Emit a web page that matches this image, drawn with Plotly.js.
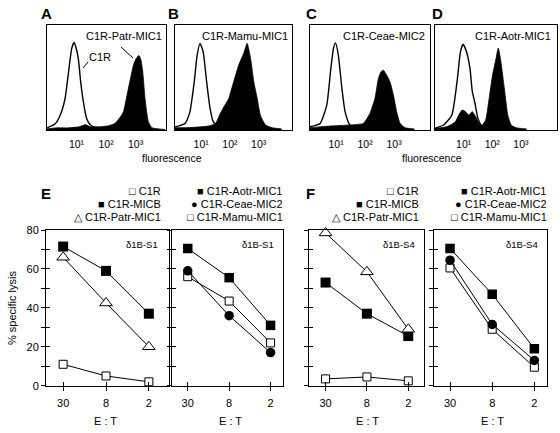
<!DOCTYPE html>
<html>
<head>
<meta charset="utf-8">
<script src="https://cdn.plot.ly/plotly-3.0.1.min.js"></script>
<style>html,body{margin:0;padding:0;background:#fff;}#chart{width:560px;height:433px;}</style>
</head>
<body>
<div id="chart"></div>
<script>
// ---------- DATA ----------
// Flow cytometry histograms (fluorescence channel value, relative cell count)
const histA_C1R_x = [1, 1.9, 2.8, 4.1, 5.2, 6.9, 8.3, 9.5, 11.5, 13.8, 17, 22, 29, 43, 100, 250];
const histA_C1R_y = [0.02, 0.06, 0.14, 0.30, 0.52, 0.78, 0.835, 0.79, 0.68, 0.46, 0.27, 0.11, 0.05, 0.025, 0.02, 0.015];
const histA_Patr_x = [1, 2, 5, 12, 20, 30, 60, 120, 200, 230, 316, 389, 479, 575, 708, 851, 1047, 1288, 1514, 1738, 2089, 2692, 3548, 6310, 10000];
const histA_Patr_y = [0.01, 0.02, 0.02, 0.03, 0.05, 0.03, 0.03, 0.04, 0.063, 0.08, 0.13, 0.175, 0.29, 0.40, 0.52, 0.62, 0.68, 0.71, 0.67, 0.56, 0.30, 0.08, 0.022, 0.01, 0.005];

const histB_C1R_x = [1.23, 2.75, 4.07, 5.75, 7.24, 9.12, 11.7, 15.5, 20.4, 26.3, 39.8, 100];
const histB_C1R_y = [0.03, 0.063, 0.175, 0.46, 0.71, 0.825, 0.746, 0.46, 0.206, 0.079, 0.032, 0.022];
const histB_Mamu_x = [1.23, 3.16, 10, 20, 31.6, 46.8, 61.7, 91.2, 135, 204, 302, 398, 525, 676, 891, 1148, 1738, 2951, 6310];
const histB_Mamu_y = [0.022, 0.022, 0.03, 0.04, 0.063, 0.16, 0.22, 0.30, 0.46, 0.62, 0.73, 0.825, 0.68, 0.46, 0.30, 0.14, 0.048, 0.022, 0.01];

const histC_C1R_x = [1.26, 2.82, 4.79, 6.61, 8.13, 9.55, 12.0, 15.8, 20.4, 30.2, 63];
const histC_C1R_y = [0.032, 0.063, 0.24, 0.59, 0.78, 0.83, 0.71, 0.40, 0.175, 0.048, 0.022];
const histC_Ceae_x = [1.26, 3.16, 10, 31.6, 87, 148, 219, 288, 355, 427, 562, 724, 955, 1230, 1622, 2399, 5012];
const histC_Ceae_y = [0.022, 0.032, 0.041, 0.048, 0.063, 0.16, 0.30, 0.49, 0.555, 0.57, 0.52, 0.46, 0.33, 0.175, 0.063, 0.022, 0.01];

const histD_C1R_x = [1, 2, 3.89, 5.89, 7.76, 9.55, 12.6, 16.6, 20, 25.1, 31.6, 44.7, 100];
const histD_C1R_y = [0.016, 0.048, 0.143, 0.46, 0.746, 0.816, 0.746, 0.59, 0.37, 0.25, 0.11, 0.032, 0.02];
const histD_Aotr_x = [1, 2.63, 5.13, 6.76, 8.91, 11.7, 15.1, 20, 26.3, 34.7, 44.7, 58.9, 77.6, 102, 135, 162, 200, 263, 347, 457, 676, 1585];
const histD_Aotr_y = [0.016, 0.032, 0.079, 0.143, 0.19, 0.175, 0.143, 0.175, 0.127, 0.063, 0.048, 0.095, 0.30, 0.52, 0.68, 0.78, 0.65, 0.40, 0.143, 0.048, 0.022, 0.01];

const histTickVals = [10, 100, 1000];
const histTickText = ['10¹', '10²', '10³'];

// Cytotoxicity (% specific lysis) at E:T ratios
const etLabels = ['30', '8', '2'];
const E1_C1R  = [11, 5, 2];
const E1_MICB = [71.5, 59, 37];
const E1_Patr = [66, 42.5, 20];
const E2_Aotr = [70.5, 55.5, 31];
const E2_Ceae = [59, 36, 17];
const E2_Mamu = [56, 43.5, 22];
const F1_C1R  = [3.5, 4.5, 2.5];
const F1_MICB = [53, 37, 25.5];
const F1_Patr = [78.5, 58.5, 29];
const F2_Aotr = [70.5, 47, 19];
const F2_Ceae = [64.5, 31.5, 13];
const F2_Mamu = [60.5, 29, 9.5];
const yLabelVals = [0, 20, 40, 60, 80];
const yTickVals = [0, 10, 20, 30, 40, 50, 60, 70, 80];

const names = {C1R: 'C1R', MICB: 'C1R-MICB', Patr: 'C1R-Patr-MIC1', Aotr: 'C1R-Aotr-MIC1', Ceae: 'C1R-Ceae-MIC2', Mamu: 'C1R-Mamu-MIC1'};
const glyph = {C1R: '□', MICB: '■', Patr: '△', Aotr: '■', Ceae: '●', Mamu: '□'};

// ---------- STYLE / LAYOUT ----------
const W = 560, H = 433;
const FONT = 'Liberation Sans, Arial, Helvetica, sans-serif';
const dx = (a, b) => [a / W, b / W];
const dy = (top, bottom) => [1 - bottom / H, 1 - top / H];

const markerStyle = {
  C1R:  {symbol: 'square', size: 8, color: '#fff', line: {color: '#000', width: 1}},
  MICB: {symbol: 'square', size: 10, color: '#000', line: {color: '#000', width: 0}},
  Patr: {symbol: 'triangle-up', size: 11, color: '#fff', line: {color: '#000', width: 1}},
  Aotr: {symbol: 'square', size: 9.5, color: '#000', line: {color: '#000', width: 0}},
  Ceae: {symbol: 'circle', size: 9.5, color: '#000', line: {color: '#000', width: 0}},
  Mamu: {symbol: 'square', size: 8, color: '#fff', line: {color: '#000', width: 1}}
};

const traces = [];
function hist(xs, ys, ax, filled) {
  traces.push({
    x: xs, y: ys, xaxis: 'x' + ax, yaxis: 'y' + ax, mode: 'lines', type: 'scatter',
    line: {color: '#000', width: filled ? 0.8 : 1.4, shape: 'spline', smoothing: 0.5},
    fill: filled ? 'tozeroy' : 'none', fillcolor: '#000', showlegend: false, hoverinfo: 'skip'
  });
}
hist(histA_Patr_x, histA_Patr_y, 1, true);
hist(histA_C1R_x, histA_C1R_y, 1, false);
hist(histB_Mamu_x, histB_Mamu_y, 2, true);
hist(histB_C1R_x, histB_C1R_y, 2, false);
hist(histC_Ceae_x, histC_Ceae_y, 3, true);
hist(histC_C1R_x, histC_C1R_y, 3, false);
hist(histD_Aotr_x, histD_Aotr_y, 4, true);
hist(histD_C1R_x, histD_C1R_y, 4, false);

function lysis(vals, key, ax) {
  traces.push({
    x: etLabels, y: vals, xaxis: 'x' + ax, yaxis: 'y' + ax, type: 'scatter', mode: 'lines+markers',
    name: names[key], line: {color: '#000', width: 1}, marker: markerStyle[key],
    showlegend: false, cliponaxis: false
  });
}
lysis(E1_C1R, 'C1R', 5); lysis(E1_Patr, 'Patr', 5); lysis(E1_MICB, 'MICB', 5);
lysis(E2_Mamu, 'Mamu', 6); lysis(E2_Ceae, 'Ceae', 6); lysis(E2_Aotr, 'Aotr', 6);
lysis(F1_C1R, 'C1R', 7); lysis(F1_MICB, 'MICB', 7); lysis(F1_Patr, 'Patr', 7);
lysis(F2_Mamu, 'Mamu', 8); lysis(F2_Ceae, 'Ceae', 8); lysis(F2_Aotr, 'Aotr', 8);
// empty traces registering the overlay (inside) tick axes
for (let i = 9; i <= 12; i++) traces.push({x: [], y: [], xaxis: 'x' + i, yaxis: 'y' + i, type: 'scatter', showlegend: false, hoverinfo: 'skip'});

const layout = {
  width: W, height: H, margin: {l: 0, r: 0, t: 0, b: 0},
  paper_bgcolor: '#fff', plot_bgcolor: 'rgba(0,0,0,0)', showlegend: false,
  font: {family: FONT, color: '#000', size: 11},
  annotations: [], shapes: []
};

const histPanels = [
  {ax: 1, x: [47, 166], range: [0, 4.03]},
  {ax: 2, x: [175, 292], range: [0.09, 4.16]},
  {ax: 3, x: [310, 430], range: [0.1, 4.24]},
  {ax: 4, x: [435, 557], range: [0, 4.26]}
];
histPanels.forEach(p => {
  layout['xaxis' + p.ax] = {
    type: 'log', domain: dx(p.x[0], p.x[1]), range: p.range, anchor: 'y' + p.ax,
    showline: true, mirror: true, linecolor: '#000', linewidth: 1, ticks: '',
    tickmode: 'array', tickvals: histTickVals, ticktext: histTickText, tickfont: {size: 10.5, family: FONT},
    ticklabelstandoff: 4, showgrid: false, zeroline: false, fixedrange: true
  };
  layout['yaxis' + p.ax] = {
    domain: dy(25, 130), range: [0, 1], anchor: 'x' + p.ax,
    showline: true, mirror: true, linecolor: '#000', linewidth: 1, ticks: '',
    tickmode: 'array', tickvals: [], showticklabels: false,
    showgrid: false, zeroline: false, fixedrange: true
  };
});

const lysisPanels = [
  {ax: 5, ov: 9,  x: [46, 169],  range: [-0.4, 2.47]},
  {ax: 6, ov: 10, x: [172, 283], range: [-0.38, 2.3]},
  {ax: 7, ov: 11, x: [309, 424], range: [-0.4, 2.38]},
  {ax: 8, ov: 12, x: [434, 547], range: [-0.38, 2.3]}
];
lysisPanels.forEach(p => {
  const common = {showgrid: false, zeroline: false, fixedrange: true, tickcolor: '#000', tickwidth: 1, ticklen: 4};
  layout['xaxis' + p.ax] = Object.assign({
    type: 'category', domain: dx(p.x[0], p.x[1]), range: p.range, anchor: 'y' + p.ax,
    showline: true, mirror: true, linecolor: '#000', linewidth: 1, ticks: 'outside',
    tickfont: {size: 11, family: FONT}, ticklabelstandoff: 3
  }, common);
  layout['yaxis' + p.ax] = Object.assign({
    domain: dy(230, 385.7), range: [0, 80], anchor: 'x' + p.ax,
    showline: true, mirror: true, linecolor: '#000', linewidth: 1, ticks: 'outside',
    tickmode: 'array', tickvals: yLabelVals,
    minor: {tickmode: 'array', tickvals: yTickVals, ticks: 'outside', ticklen: 4, tickcolor: '#000', tickwidth: 1},
    showticklabels: p.ax === 5, tickfont: {size: 11, family: FONT}
  }, common);
  layout['xaxis' + p.ov] = Object.assign({
    type: 'linear', overlaying: 'x' + p.ax, anchor: 'y' + p.ov, range: p.range,
    tickmode: 'array', tickvals: [0, 1, 2], ticks: 'inside', showticklabels: false, showline: false
  }, common);
  layout['yaxis' + p.ov] = Object.assign({
    overlaying: 'y' + p.ax, anchor: 'x' + p.ov, range: [0, 80],
    tickmode: 'array', tickvals: yTickVals, ticks: 'inside', showticklabels: false, showline: false
  }, common);
});

function ann(text, x, y, o) {
  layout.annotations.push(Object.assign({
    xref: 'paper', yref: 'paper', x: x / W, y: 1 - y / H, text: text, showarrow: false,
    font: {family: FONT, size: 11, color: '#000'}, xanchor: 'center', yanchor: 'middle'
  }, o || {}));
}
const bold = s => '<b>' + s + '</b>';
// panel letters
[['A', 47, 14], ['B', 173, 14], ['C', 311, 14], ['D', 437, 14], ['E', 46, 193], ['F', 310, 193]]
  .forEach(l => ann(bold(l[0]), l[1], l[2], {font: {family: FONT, size: 15, color: '#000'}}));
// histogram labels
ann(names.Patr, 164, 36, {xanchor: 'right'});
ann(names.C1R, 100, 57);
ann(names.Mamu, 290, 36, {xanchor: 'right'});
ann(names.Ceae, 427, 36, {xanchor: 'right'});
ann(names.Aotr, 553, 36, {xanchor: 'right'});
ann('fluorescence', 172, 158, {font: {family: FONT, size: 10.5, color: '#000'}});
ann('fluorescence', 432, 158, {font: {family: FONT, size: 10.5, color: '#000'}});
// leader lines in panel A
const seg = (x0, y0, x1, y1) => layout.shapes.push({type: 'line', xref: 'paper', yref: 'paper',
  x0: x0 / W, y0: 1 - y0 / H, x1: x1 / W, y1: 1 - y1 / H, line: {color: '#000', width: 1}});
seg(121, 47, 133, 58);
seg(88, 62, 83, 68);

// legends above the lysis panels
function legend(keys, xr) {
  keys.forEach((k, i) => ann(glyph[k] + ' ' + names[k], xr, 191 + i * 13, {xanchor: 'right'}));
}
legend(['C1R', 'MICB', 'Patr'], 163);
legend(['Aotr', 'Ceae', 'Mamu'], 285);
legend(['C1R', 'MICB', 'Patr'], 421);
legend(['Aotr', 'Ceae', 'Mamu'], 549);
// effector lines
ann('δ1B-S1', 160, 244, {xanchor: 'right', font: {family: FONT, size: 9.5, color: '#000'}});
ann('δ1B-S1', 276, 244, {xanchor: 'right', font: {family: FONT, size: 9.5, color: '#000'}});
ann('δ1B-S4', 417, 244, {xanchor: 'right', font: {family: FONT, size: 9.5, color: '#000'}});
ann('δ1B-S4', 540, 244, {xanchor: 'right', font: {family: FONT, size: 9.5, color: '#000'}});
// axis titles
[105, 230, 367, 492].forEach(x => ann('E : T', x, 421));
ann('% specific lysis', 12, 308, {textangle: -90});

Plotly.newPlot('chart', traces, layout, {staticPlot: true, displayModeBar: false});
</script>
</body>
</html>
